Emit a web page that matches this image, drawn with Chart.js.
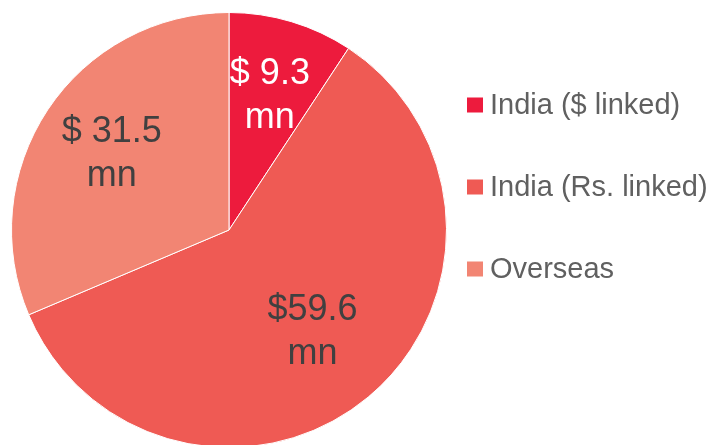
<!DOCTYPE html>
<html>
<head>
<meta charset="utf-8">
<script src="https://cdn.jsdelivr.net/npm/chart.js@4/dist/chart.umd.min.js"></script>
<style>
  html, body { margin: 0; padding: 0; background: #fff; overflow: hidden; }
  #wrap { width: 713px; height: 460px; }
</style>
</head>
<body>
<div id="wrap"><canvas id="pieCanvas" width="713" height="460"></canvas></div>
<script>
const categories = ['India ($ linked)', 'India (Rs. linked)', 'Overseas'];
const values = [9.3, 59.6, 31.5];
const sliceLabels = [['$ 9.3', 'mn'], ['$59.6', 'mn'], ['$ 31.5', 'mn']];
const colors = ['#ED1B3D', '#EF5A54', '#F28573'];
const labelColors = ['#ffffff', '#404040', '#404040'];
// how far out from the centre each slice label sits (fraction of radius)
const labelRadius = [0.655, 0.60, 0.647];

const FONT = '"Liberation Sans", Arial, sans-serif';

// labels inside slices
const sliceText = {
  id: 'sliceText',
  afterDatasetsDraw(chart) {
    const ctx = chart.ctx;
    const meta = chart.getDatasetMeta(0);
    ctx.save();
    ctx.font = '36px ' + FONT;
    ctx.textAlign = 'center';
    ctx.textBaseline = 'alphabetic';
    meta.data.forEach((arc, i) => {
      const mid = (arc.startAngle + arc.endAngle) / 2;
      const r = arc.outerRadius * labelRadius[i];
      const x = arc.x + Math.cos(mid) * r;
      const y = arc.y + Math.sin(mid) * r;
      ctx.fillStyle = labelColors[i];
      ctx.fillText(sliceLabels[i][0], x, y - 10);
      ctx.fillText(sliceLabels[i][1], x, y + 34);
    });
    ctx.restore();
  }
};

// legend on the right
const sideLegend = {
  id: 'sideLegend',
  afterDraw(chart) {
    const ctx = chart.ctx;
    const x0 = chart.chartArea.right + 20;
    const yStart = 105;
    const step = 82;
    ctx.save();
    ctx.font = '29px ' + FONT;
    ctx.textBaseline = 'middle';
    chart.data.labels.forEach((lab, i) => {
      const y = yStart + i * step;
      ctx.fillStyle = chart.data.datasets[0].backgroundColor[i];
      ctx.fillRect(x0, y - 7.5, 16, 15);
      ctx.fillStyle = '#606060';
      ctx.fillText(lab, x0 + 23, y + 1);
    });
    ctx.restore();
  }
};

new Chart(document.getElementById('pieCanvas').getContext('2d'), {
  type: 'pie',
  data: {
    labels: categories,
    datasets: [{
      data: values,
      backgroundColor: colors,
      borderColor: '#ffffff',
      borderWidth: 1
    }]
  },
  options: {
    responsive: false,
    animation: false,
    layout: { padding: { top: 12, bottom: 12, left: 11, right: 266 } },
    plugins: {
      legend: { display: false },
      tooltip: { enabled: false }
    }
  },
  plugins: [sliceText, sideLegend]
});
</script>
</body>
</html>
